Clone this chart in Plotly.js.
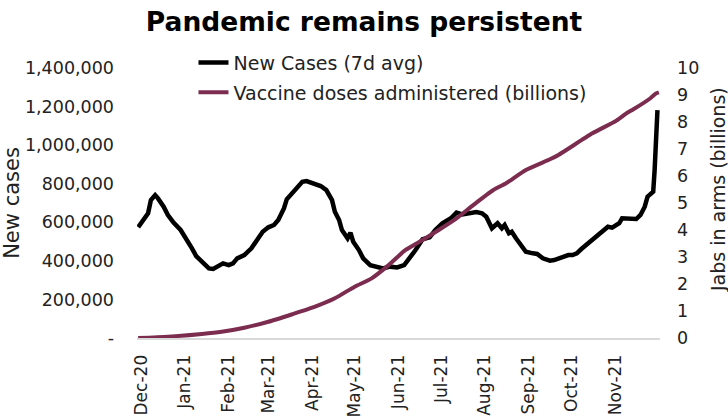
<!DOCTYPE html>
<html>
<head>
<meta charset="utf-8">
<script src="https://cdn.plot.ly/plotly-3.0.1.min.js"></script>
<style>html,body{margin:0;padding:0;background:#fff}#chart{width:728px;height:416px}</style>
</head>
<body>
<div id="chart"></div>
<script>
// New cases (7-day average)
const caseDates = ['2020-11-29','2020-12-02','2020-12-06','2020-12-08','2020-12-11','2020-12-13','2020-12-17','2020-12-20','2020-12-24','2020-12-29',
'2021-01-02','2021-01-06','2021-01-09','2021-01-13','2021-01-18','2021-01-21','2021-01-25','2021-01-28','2021-02-01','2021-02-04',
'2021-02-07','2021-02-12','2021-02-17','2021-02-21','2021-02-25','2021-03-01','2021-03-05','2021-03-08','2021-03-12','2021-03-14',
'2021-03-18','2021-03-21','2021-03-25','2021-03-28','2021-04-02','2021-04-07','2021-04-11','2021-04-15','2021-04-17','2021-04-20',
'2021-04-22','2021-04-26','2021-04-28','2021-04-30','2021-05-04','2021-05-07','2021-05-12','2021-05-17','2021-05-21','2021-05-26',
'2021-05-31','2021-06-05','2021-06-09','2021-06-13','2021-06-18','2021-06-23','2021-06-27','2021-07-02','2021-07-08','2021-07-12',
'2021-07-16','2021-07-21','2021-07-26','2021-07-30','2021-08-02','2021-08-06','2021-08-10','2021-08-13','2021-08-15','2021-08-18',
'2021-08-20','2021-08-23','2021-08-27','2021-08-30','2021-09-04','2021-09-07','2021-09-11','2021-09-16','2021-09-19','2021-09-24',
'2021-09-29','2021-10-02','2021-10-05','2021-10-08','2021-10-13','2021-10-17','2021-10-22','2021-10-27','2021-10-30','2021-11-04',
'2021-11-06','2021-11-11','2021-11-16','2021-11-19','2021-11-22','2021-11-24','2021-11-27','2021-11-28','2021-11-29','2021-11-30','2021-12-01'];
const newCases = [575000,608000,647000,715000,741000,724000,681000,638000,598000,560000,
517000,465000,425000,396000,361000,358000,373000,387000,378000,387000,
413000,430000,465000,508000,551000,574000,586000,612000,672000,719000,
750000,781000,810000,814000,802000,788000,767000,715000,655000,612000,
560000,517000,546000,499000,456000,413000,378000,370000,361000,370000,
366000,378000,413000,456000,512000,522000,560000,595000,621000,650000,
641000,650000,653000,647000,629000,569000,595000,569000,586000,543000,
551000,517000,473000,447000,439000,436000,413000,401000,404000,418000,
430000,430000,439000,460000,491000,517000,551000,577000,572000,595000,
621000,621000,617000,638000,681000,733000,750000,759000,871000,1010000,1182000];

// Vaccine doses administered (billions)
const vaxDates = ['2020-11-29','2020-12-20','2021-01-13','2021-01-27','2021-02-12','2021-03-01','2021-03-18','2021-04-03','2021-04-17','2021-05-01',
'2021-05-13','2021-05-25','2021-06-06','2021-06-18','2021-06-30','2021-07-12','2021-07-24','2021-08-07','2021-08-16','2021-08-30',
'2021-09-16','2021-09-22','2021-10-16','2021-11-02','2021-11-09','2021-11-14','2021-11-26','2021-11-30','2021-12-02'];
const vaxDoses = [0.0,0.05,0.15,0.23,0.38,0.60,0.88,1.16,1.47,1.90,
2.21,2.70,3.26,3.63,4.02,4.43,4.93,5.48,5.73,6.22,
6.62,6.78,7.58,8.05,8.32,8.47,8.88,9.06,9.10];

// Axis ticks
const monthTicks = ['2020-12-01','2021-01-01','2021-02-01','2021-03-01','2021-04-01','2021-05-01','2021-06-01','2021-07-01','2021-08-01','2021-09-01','2021-10-01','2021-11-01'];
const monthLabels = ['Dec-20','Jan-21','Feb-21','Mar-21','Apr-21','May-21','Jun-21','Jul-21','Aug-21','Sep-21','Oct-21','Nov-21'];
const caseTicks = [0,200000,400000,600000,800000,1000000,1200000,1400000];
const caseLabels = ['-','200,000','400,000','600,000','800,000','1,000,000','1,200,000','1,400,000'];
const vaxTicks = [0,1,2,3,4,5,6,7,8,9,10];

const FONT = 'DejaVu Sans, sans-serif';
const TXT = '#222222';

const traces = [
  {x: caseDates, y: newCases, type: 'scatter', mode: 'lines', name: 'New Cases (7d avg)',
   line: {color: '#000000', width: 4.5}, yaxis: 'y', legendgroup: 'a'},
  {x: vaxDates, y: vaxDoses, type: 'scatter', mode: 'lines', name: 'Vaccine doses administered (billions)',
   line: {color: '#7b2c4f', width: 4, shape: 'spline', smoothing: 0.6}, yaxis: 'y2', legendgroup: 'b'}
];

const layout = {
  width: 728, height: 416,
  margin: {l: 137, r: 68, t: 68, b: 78, pad: 0},
  paper_bgcolor: '#ffffff', plot_bgcolor: '#ffffff',
  font: {family: FONT, color: TXT, size: 16},
  title: {text: '<b>Pandemic remains persistent</b>', x: 0.5, xref: 'container', xanchor: 'center',
          y: 1 - 22/416, yref: 'container', yanchor: 'middle', font: {family: FONT, size: 26.5, color: '#000'}},
  showlegend: true,
  legend: {x: 0.108, y: 1.09, xanchor: 'left', yanchor: 'top', bgcolor: 'rgba(0,0,0,0)',
           font: {family: FONT, size: 19, color: TXT}, traceorder: 'grouped', tracegroupgap: 2},
  xaxis: {type: 'date', range: ['2020-11-28 04:00', '2021-12-02 19:00'],
          tickvals: monthTicks, ticktext: monthLabels, tickangle: -90,
          showgrid: false, zeroline: false, showline: true, linecolor: '#d9d9d9', linewidth: 2,
          ticks: '', ticklabelstandoff: 8, tickfont: {family: FONT, size: 17, color: TXT}},
  yaxis: {range: [0, 1400000], tickvals: caseTicks, ticktext: caseLabels,
          showgrid: false, zeroline: false, showline: false, ticks: '', ticklabelstandoff: 22,
          tickfont: {family: FONT, size: 17.5, color: TXT},
          title: {text: 'New cases', font: {family: FONT, size: 21, color: TXT}, standoff: 0}},
  yaxis2: {range: [0, 10], tickvals: vaxTicks, overlaying: 'y', side: 'right',
          showgrid: false, zeroline: false, showline: false, ticks: '', ticklabelstandoff: 16,
          tickfont: {family: FONT, size: 17.5, color: TXT}},
  annotations: [
    {text: 'Jabs in arms (billions)', xref: 'paper', yref: 'paper', x: 1, xshift: 58, y: 0.548,
     xanchor: 'center', yanchor: 'middle', textangle: -90, showarrow: false,
     font: {family: FONT, size: 19, color: TXT}}
  ]
};

Plotly.newPlot('chart', traces, layout, {displayModeBar: false, staticPlot: true});
</script>
</body>
</html>
